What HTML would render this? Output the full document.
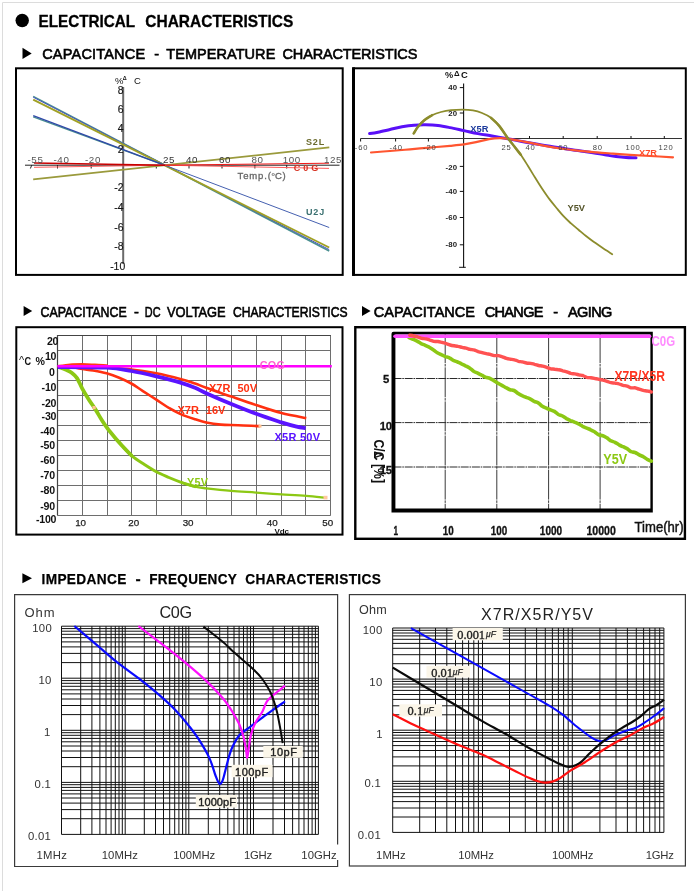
<!DOCTYPE html>
<html><head><meta charset="utf-8">
<style>
html,body{margin:0;padding:0;background:#fff;}
body{width:694px;height:893px;position:relative;overflow:hidden;font-family:"Liberation Sans",sans-serif;}
svg{position:absolute;left:0;top:0;will-change:transform;}
text{font-family:"Liberation Sans",sans-serif;}
</style></head><body>
<svg width="694" height="893" viewBox="0 0 694 893">
<path d="M2.5 891V2.5H694" fill="none" stroke="#dcdcdc" stroke-width="1"/>
<circle cx="22.2" cy="20.5" r="6.7" fill="#000"/>
<text x="38.5" y="27.1" font-size="16.4" fill="#000" font-weight="bold" textLength="96.7" lengthAdjust="spacingAndGlyphs" stroke="#000" stroke-width="0.3" letter-spacing="0" >ELECTRICAL</text>
<text x="145.3" y="27.1" font-size="16.4" fill="#000" font-weight="bold" textLength="148.0" lengthAdjust="spacingAndGlyphs" stroke="#000" stroke-width="0.3" letter-spacing="0" >CHARACTERISTICS</text>
<path d="M22.5 47.8L31.7 53.4L22.5 59Z" fill="#000"/>
<text x="42.2" y="59.3" font-size="14.5" fill="#000" textLength="102.9" lengthAdjust="spacing" stroke="#000" stroke-width="0.6">CAPACITANCE</text>
<text x="154.2" y="59.3" font-size="14.5" fill="#000" stroke="#000" stroke-width="0.6">-</text>
<text x="166.3" y="59.3" font-size="14.5" fill="#000" textLength="109.0" lengthAdjust="spacing" stroke="#000" stroke-width="0.6">TEMPERATURE</text>
<text x="282.5" y="59.3" font-size="14.5" fill="#000" textLength="134.8" lengthAdjust="spacing" stroke="#000" stroke-width="0.6">CHARACTERISTICS</text>
<g id="c1">
<rect x="16" y="68.3" width="326.7" height="206.6" fill="#fff" stroke="#000" stroke-width="2"/>
<path d="M123.2 87V264" stroke="#6a6a6a" stroke-width="2" fill="none"/>
<path d="M25 165.2H339.5" stroke="#222" stroke-width="1" fill="none"/>
<path d="M57.5 165V168.5M91.2 165V168.5M156.3 165V168.5M189 165V168.5M222 165V168.5M254.9 165V168.5M286.7 165V168.5M31.8 165L30.4 168.5" stroke="#222" stroke-width="1" fill="none"/>
<path d="M33.2 179.4L329.3 147.4" stroke="#9a9a3c" stroke-width="1.7" fill="none"/>
<path d="M33.2 96.4L329.2 251" stroke="#4a9090" stroke-width="1.6" fill="none"/>
<path d="M33.2 97.2L329.2 249.6" stroke="#4a55c0" stroke-width="1" fill="none"/>
<path d="M33.2 99.7L329.2 247.5" stroke="#a0a024" stroke-width="1.9" fill="none"/>
<path d="M33.2 116.8L165 165.3" stroke="#4a9090" stroke-width="1.4" fill="none"/>
<path d="M33.2 115.6L165 165.3" stroke="#3048a8" stroke-width="1.3" fill="none"/><path d="M165 165.3L329.2 227.5" stroke="#4560b0" stroke-width="1" fill="none"/>
<path d="M34 167.3L165 165.2L329 168.4" stroke="#ff5a5a" stroke-width="1" fill="none"/>
<path d="M34 163L165 165.2" stroke="#c80000" stroke-width="1.4" fill="none"/>
<path d="M165 165.2L329 163.2" stroke="#f01818" stroke-width="1" fill="none"/>
<text x="27.5" y="162.8" font-size="9.8" fill="#555" letter-spacing="0.6">-55</text>
<text x="53.5" y="162.8" font-size="9.8" fill="#555" letter-spacing="0.6">-40</text>
<text x="85" y="162.8" font-size="9.8" fill="#555" letter-spacing="0.6">-20</text>
<text x="163" y="162.8" font-size="9.8" fill="#333" letter-spacing="0.6">25</text>
<text x="186" y="162.8" font-size="9.8" fill="#333" letter-spacing="0.6">40</text>
<text x="219" y="162.8" font-size="9.8" fill="#333" letter-spacing="0.6">60</text>
<text x="251.5" y="162.8" font-size="9.8" fill="#555" letter-spacing="0.6">80</text>
<text x="282.7" y="162.8" font-size="9.8" fill="#555" letter-spacing="0.6">100</text>
<text x="324" y="162.8" font-size="9.8" fill="#555" letter-spacing="0.6">125</text>
<text x="123.6" y="94" font-size="10.4" fill="#151515" text-anchor="end" stroke="#151515" stroke-width="0.15">8</text>
<text x="123.6" y="112.5" font-size="10.4" fill="#151515" text-anchor="end" stroke="#151515" stroke-width="0.15">6</text>
<text x="123.6" y="131.7" font-size="10.4" fill="#151515" text-anchor="end" stroke="#151515" stroke-width="0.15">4</text>
<text x="123.6" y="152.9" font-size="10.4" fill="#151515" text-anchor="end" stroke="#151515" stroke-width="0.15">2</text>
<text x="123.6" y="191" font-size="10.4" fill="#151515" text-anchor="end" stroke="#151515" stroke-width="0.15">-2</text>
<text x="123.6" y="211.4" font-size="10.4" fill="#151515" text-anchor="end" stroke="#151515" stroke-width="0.15">-4</text>
<text x="123.6" y="230.8" font-size="10.4" fill="#151515" text-anchor="end" stroke="#151515" stroke-width="0.15">-6</text>
<text x="123.6" y="250.3" font-size="10.4" fill="#151515" text-anchor="end" stroke="#151515" stroke-width="0.15">-8</text>
<text x="125.2" y="270.2" font-size="10.4" fill="#151515" text-anchor="end" stroke="#151515" stroke-width="0.15">-10</text>
<text x="115" y="84.2" font-size="9.5" fill="#111">%</text>
<text x="122.8" y="79.6" font-size="5.5" fill="#111" font-weight="bold">Δ</text>
<text x="134" y="84.2" font-size="9.5" fill="#111">C</text>
<text x="306" y="144.7" font-size="9" fill="#6b6b2e" font-weight="bold" textLength="18.2" lengthAdjust="spacing">S2L</text>
<text x="293.8" y="170.7" font-size="9" fill="#d63020" font-weight="bold" textLength="24.4" lengthAdjust="spacing">C0G</text>
<text x="306" y="215" font-size="9" fill="#3a7070" font-weight="bold" textLength="18.2" lengthAdjust="spacing">U2J</text>
<text x="237.5" y="179.4" font-size="9.5" fill="#666" textLength="33.5" lengthAdjust="spacing" stroke="#666" stroke-width="0.3">Temp.(</text>
<text x="271.4" y="175.6" font-size="5.5" fill="#666" font-weight="bold">o</text>
<text x="275" y="179.4" font-size="9.5" fill="#666" textLength="10.6" lengthAdjust="spacing" stroke="#666" stroke-width="0.3">C)</text>
</g>
<g id="c2">
<rect x="353.5" y="68.3" width="332.3" height="206.6" fill="#fff" stroke="#000" stroke-width="2"/>
<rect x="352" y="67.3" width="3" height="208.6" fill="#000"/>
<path d="M463.6 83.5V267.5" stroke="#111" stroke-width="1.1" fill="none"/><path d="M360.6 138.5H682" stroke="#333" stroke-width="1" fill="none"/>
<path d="M360.6 138.5V141.5M395.6 138.5V141.5M428.4 138.5V141.5M496.3 138.5V136M529.5 138.5V136M563.2 138.5V136M597.2 138.5V136M631 138.5V136M664.3 138.5V136M459.8 87.6H464M459.8 113H464M459.8 166.4H464M459.8 191.4H464M459.8 217.5H464M459.8 244.8H464M459.1 267.3H465.8" stroke="#111" stroke-width="1" fill="none"/>
<path d="M369.6 133.6C371.0 133.4 374.6 132.9 378.0 132.2C381.4 131.5 386.0 130.4 390.0 129.5C394.0 128.6 398.0 127.5 402.0 126.8C406.0 126.1 410.1 125.5 414.0 125.2C417.9 124.9 421.5 124.7 425.5 124.8C429.5 124.9 433.9 125.1 438.0 125.6C442.1 126.1 445.7 126.8 450.0 127.6C454.3 128.4 459.3 129.6 464.0 130.6C468.7 131.6 473.3 132.7 478.0 133.6C482.7 134.5 486.8 135.1 492.0 136.0C497.2 136.9 504.0 138.0 509.0 138.9C514.0 139.8 517.7 140.7 522.0 141.5C526.3 142.3 530.3 143.0 535.0 143.8C539.7 144.6 545.2 145.5 550.0 146.3C554.8 147.1 559.3 147.7 564.0 148.4C568.7 149.1 573.2 149.9 578.0 150.6C582.8 151.3 588.5 152.0 593.0 152.7C597.5 153.4 601.2 154.2 605.0 154.8C608.8 155.4 612.5 156.1 616.0 156.5C619.5 156.9 622.7 157.2 626.0 157.4C629.3 157.6 634.3 157.7 636.0 157.8" stroke="#5a10f8" stroke-width="3" fill="none" stroke-linecap="round"/>
<path d="M371.0 152.5C374.2 152.2 383.5 151.5 390.0 151.0C396.5 150.5 403.3 149.9 410.0 149.3C416.7 148.7 423.3 148.2 430.0 147.6C436.7 147.0 444.3 146.3 450.0 145.8C455.7 145.3 459.7 145.0 464.0 144.4C468.3 143.8 471.8 143.1 476.0 142.2C480.2 141.3 485.0 139.9 489.0 139.2C493.0 138.5 496.2 138.2 500.0 138.2C503.8 138.2 507.1 138.7 512.0 139.4C516.9 140.2 523.8 141.6 529.5 142.7C535.2 143.8 540.2 145.1 546.0 146.2C551.8 147.2 558.3 148.2 564.0 149.0C569.7 149.8 574.5 150.2 580.0 150.8C585.5 151.4 591.5 151.9 597.0 152.4C602.5 152.9 607.5 153.2 613.0 153.6C618.5 154.0 623.8 154.4 630.0 154.8C636.2 155.2 642.8 155.6 650.0 156.0C657.2 156.4 669.2 157.1 673.0 157.3" stroke="#ff5530" stroke-width="2.2" fill="none" stroke-linecap="round"/>
<path d="M413.7 133.4C414.4 132.3 416.3 128.9 418.0 126.8C419.7 124.6 421.7 122.4 424.0 120.5C426.3 118.6 429.2 116.6 432.0 115.2C434.8 113.8 437.8 112.8 441.0 112.0C444.2 111.2 447.5 110.6 451.0 110.2C454.5 109.8 458.3 109.6 462.0 109.6C465.7 109.6 469.7 109.8 473.0 110.4C476.3 111.0 479.0 111.8 482.0 113.0C485.0 114.2 488.2 115.7 491.0 117.8C493.8 119.9 496.2 122.2 499.0 125.6C501.8 129.0 505.4 134.8 507.9 138.2C510.4 141.6 511.9 143.2 514.0 146.0C516.1 148.8 518.5 151.5 520.8 154.8C523.1 158.1 525.6 162.2 528.0 166.0C530.4 169.8 532.9 174.1 535.2 177.8C537.5 181.6 539.6 184.9 542.0 188.5C544.4 192.1 547.1 196.1 549.6 199.4C552.1 202.7 554.6 205.6 557.0 208.5C559.4 211.4 561.7 214.2 564.0 216.7C566.3 219.2 568.6 221.2 571.0 223.4C573.4 225.6 576.0 227.6 578.5 229.7C581.0 231.8 583.6 234.1 586.0 236.0C588.4 237.9 590.2 239.3 592.9 241.2C595.6 243.1 598.8 245.4 602.0 247.6C605.2 249.8 610.5 253.1 612.2 254.2" stroke="#8c8c2c" stroke-width="1.8" fill="none" stroke-linecap="round"/>
<path d="M413.7 133.4C414.4 132.3 416.3 128.9 418.0 126.8C419.7 124.6 421.7 122.4 424.0 120.5C426.3 118.6 430.7 116.1 432.0 115.2" stroke="#8c8c2c" stroke-width="2.6" fill="none" stroke-linecap="round"/>
<path d="M491.0 117.8C492.3 119.1 496.2 122.2 499.0 125.6C501.8 129.0 505.4 134.8 507.9 138.2C510.4 141.6 511.9 143.2 514.0 146.0C516.1 148.8 519.7 153.3 520.8 154.8" stroke="#8c8c2c" stroke-width="2.5" fill="none" stroke-linecap="round"/>
<text x="445" y="78.2" font-size="9.2" fill="#111" font-weight="bold">%</text>
<text x="453.9" y="75.6" font-size="7.8" fill="#111" font-weight="bold">Δ</text>
<text x="461" y="78.2" font-size="9.4" fill="#111" font-weight="bold">C</text>
<text x="457.4" y="90.19999999999999" font-size="7.8" fill="#222" font-weight="bold" text-anchor="end" letter-spacing="0.2">40</text>
<text x="457.4" y="115.8" font-size="7.8" fill="#222" font-weight="bold" text-anchor="end" letter-spacing="0.2">20</text>
<text x="457.4" y="170.4" font-size="7.8" fill="#222" font-weight="bold" text-anchor="end" letter-spacing="0.2">-20</text>
<text x="457.4" y="194.0" font-size="7.8" fill="#222" font-weight="bold" text-anchor="end" letter-spacing="0.2">-40</text>
<text x="457.4" y="220.0" font-size="7.8" fill="#222" font-weight="bold" text-anchor="end" letter-spacing="0.2">-60</text>
<text x="457.4" y="247.29999999999998" font-size="7.8" fill="#222" font-weight="bold" text-anchor="end" letter-spacing="0.2">-80</text>
<text x="361.5" y="149.8" font-size="7.6" fill="#444" text-anchor="middle" letter-spacing="0.8">-60</text>
<text x="396.2" y="149.8" font-size="7.6" fill="#444" text-anchor="middle" letter-spacing="0.8">-40</text>
<text x="429.8" y="149.8" font-size="7.6" fill="#444" text-anchor="middle" letter-spacing="0.8">-20</text>
<text x="506.5" y="149.8" font-size="7.6" fill="#444" text-anchor="middle" letter-spacing="0.8">25</text>
<text x="530.6" y="149.8" font-size="7.6" fill="#444" text-anchor="middle" letter-spacing="0.8">40</text>
<text x="563.2" y="149.8" font-size="7.6" fill="#444" text-anchor="middle" letter-spacing="0.8">60</text>
<text x="597.7" y="149.8" font-size="7.6" fill="#444" text-anchor="middle" letter-spacing="0.8">80</text>
<text x="633" y="149.8" font-size="7.6" fill="#444" text-anchor="middle" letter-spacing="0.8">100</text>
<text x="666" y="149.8" font-size="7.6" fill="#444" text-anchor="middle" letter-spacing="0.8">120</text>
<text x="470.3" y="131.6" font-size="9.3" fill="#1c3a9c" font-weight="bold">X5R</text>
<text x="639" y="156.2" font-size="9.3" fill="#ff4a28" font-weight="bold">X7R</text>
<text x="567.5" y="211" font-size="9.3" fill="#55552a" font-weight="bold">Y5V</text>
</g>
<path d="M23.6 306L32.2 311L23.6 316Z" fill="#000"/>
<text x="40.5" y="316.9" font-size="14.6" fill="#000" textLength="86.2" lengthAdjust="spacingAndGlyphs" stroke="#000" stroke-width="0.6" letter-spacing="0" >CAPACITANCE</text>
<text x="134" y="316.9" font-size="14.6" fill="#000" stroke="#000" stroke-width="0.6" letter-spacing="0" >-</text>
<text x="144.8" y="316.9" font-size="14.6" fill="#000" textLength="15.7" lengthAdjust="spacingAndGlyphs" stroke="#000" stroke-width="0.6" letter-spacing="0" >DC</text>
<text x="166.9" y="316.9" font-size="14.6" fill="#000" textLength="58.8" lengthAdjust="spacingAndGlyphs" stroke="#000" stroke-width="0.6" letter-spacing="0" >VOLTAGE</text>
<text x="233" y="316.9" font-size="14.6" fill="#000" textLength="114.5" lengthAdjust="spacingAndGlyphs" stroke="#000" stroke-width="0.6" letter-spacing="0" >CHARACTERISTICS</text>
<path d="M362 306L370.6 311L362 316Z" fill="#000"/>
<text x="373.8" y="316.9" font-size="14.5" fill="#000" textLength="101.2" lengthAdjust="spacing" stroke="#000" stroke-width="0.6">CAPACITANCE</text>
<text x="484.7" y="316.9" font-size="14.5" fill="#000" textLength="58.8" lengthAdjust="spacing" stroke="#000" stroke-width="0.6">CHANGE</text>
<text x="553.3" y="316.9" font-size="14.5" fill="#000" stroke="#000" stroke-width="0.6">-</text>
<text x="568" y="316.9" font-size="14.5" fill="#000" textLength="44.3" lengthAdjust="spacing" stroke="#000" stroke-width="0.6">AGING</text>
<g id="c3">
<rect x="16.3" y="327.2" width="326.2" height="207.4" fill="#fff" stroke="#000" stroke-width="2"/>
<path d="M57.5 335.8V515.2M82.5 335.8V515.2M107.5 335.8V515.2M131.5 335.8V515.2M156.5 335.8V515.2M181.5 335.8V515.2M206.5 335.8V515.2M231.5 335.8V515.2M256.5 335.8V515.2M281.5 335.8V515.2M305.5 335.8V515.2M330.5 335.8V515.2M57.3 335.5H330.8M57.3 350.5H330.8M57.3 365.5H330.8M57.3 380.5H330.8M57.3 395.5H330.8M57.3 410.5H330.8M57.3 425.5H330.8M57.3 440.5H330.8M57.3 455.5H330.8M57.3 470.5H330.8M57.3 485.5H330.8M57.3 500.5H330.8M57.3 515.5H330.8" stroke="#6e6e6e" stroke-width="1" fill="none"/>
<path d="M57.5 515.2V335.5H330.8" stroke="#444" stroke-width="1.2" fill="none"/>
<path d="M60.0 367.5C61.0 367.9 64.1 368.9 66.0 369.8C67.9 370.7 69.8 371.3 71.6 372.7C73.4 374.1 75.2 375.4 77.0 378.1C78.8 380.8 80.4 385.3 82.4 388.9C84.4 392.5 86.7 396.3 88.9 399.7C91.1 403.1 93.2 406.0 95.4 409.4C97.6 412.8 99.9 417.1 101.9 420.2C103.9 423.3 105.2 425.3 107.3 428.2C109.4 431.1 112.1 434.3 114.8 437.5C117.5 440.7 120.8 444.3 123.5 447.3C126.2 450.3 130.0 454.0 131.3 455.3" stroke="#8cc814" stroke-width="3.8" fill="none" stroke-linecap="round"/>
<path d="M123.5 447.3C124.8 448.6 128.1 452.6 131.3 455.3C134.5 458.0 138.7 460.8 142.9 463.5C147.1 466.2 152.0 469.4 156.3 471.7C160.6 474.0 164.8 475.7 168.9 477.5C173.1 479.3 176.8 480.8 181.2 482.3C185.5 483.8 192.7 485.9 195.0 486.6" stroke="#8cc814" stroke-width="3" fill="none" stroke-linecap="round"/>
<path d="M181.2 482.3C183.5 483.0 190.8 485.6 195.0 486.6C199.2 487.6 200.1 487.6 206.2 488.3C212.2 489.0 223.0 490.2 231.3 490.9C239.6 491.6 247.8 492.0 256.2 492.6C264.5 493.2 273.0 493.8 281.4 494.4C289.8 494.9 298.9 495.3 306.3 495.9C313.7 496.5 322.6 497.5 325.8 497.8" stroke="#8cc814" stroke-width="2.3" fill="none"/>
<rect x="323.5" y="495.8" width="4" height="3.6" fill="#ffc8a0"/>
<rect x="92.5" y="406" width="3.2" height="3.2" fill="#ffc090"/>
<path d="M58.0 366.2C60.0 365.9 66.0 364.9 70.0 364.6C74.0 364.3 77.8 364.3 82.0 364.3C86.2 364.3 90.7 364.6 95.0 364.8C99.3 365.0 105.8 365.5 108.0 365.6" stroke="#ff3a18" stroke-width="2.4" fill="none"/>
<path d="M75.0 367.4C76.2 367.7 79.4 368.5 82.4 369.0C85.4 369.5 89.2 369.8 93.2 370.5C97.2 371.2 102.3 372.1 106.6 373.3C110.9 374.5 115.1 376.0 119.2 377.7C123.3 379.4 127.4 381.3 131.3 383.5C135.2 385.7 138.7 388.4 142.9 391.1C147.1 393.8 152.0 396.9 156.3 399.7C160.6 402.5 164.8 405.4 168.9 407.9C173.1 410.3 176.8 412.5 181.2 414.4C185.5 416.3 190.8 417.9 195.0 419.2C199.2 420.5 201.9 421.5 206.2 422.4C210.5 423.3 215.6 424.1 220.9 424.6C226.2 425.1 231.7 424.9 238.2 425.2C244.7 425.4 256.2 426.0 259.8 426.1" stroke="#ff3010" stroke-width="2.6" fill="none"/>
<rect x="258.5" y="424.6" width="3" height="3" fill="#ffc090"/>
<path d="M100.0 366.0C101.1 366.2 101.4 366.7 106.6 367.3C111.8 367.9 123.0 368.5 131.3 369.5C139.6 370.5 148.0 371.7 156.3 373.3C164.6 374.9 174.8 377.5 181.2 379.2C187.6 380.9 190.8 382.1 195.0 383.5C199.2 384.9 200.1 385.6 206.2 387.8C212.2 390.0 223.0 393.6 231.3 396.5C239.6 399.4 247.8 402.3 256.2 405.1C264.5 407.9 273.0 410.9 281.4 413.1C289.8 415.3 302.1 417.3 306.3 418.1" stroke="#ff3010" stroke-width="2.6" fill="none"/>
<path d="M58.0 367.0C66.1 367.1 94.4 367.0 106.6 367.7C118.8 368.4 123.0 369.6 131.3 371.0C139.6 372.4 148.0 374.4 156.3 376.4C164.6 378.4 174.8 381.0 181.2 382.9C187.6 384.8 190.8 386.1 195.0 387.8C199.2 389.5 200.1 390.5 206.2 393.2C212.2 395.9 223.0 400.6 231.3 404.0C239.6 407.4 247.8 410.7 256.2 413.8C264.5 416.9 274.7 420.2 281.4 422.4C288.1 424.5 292.6 425.7 296.6 426.7C300.7 427.7 304.2 427.9 305.7 428.2" stroke="#5a14ff" stroke-width="3.8" fill="none"/>
<path d="M57.3 366.2H331.8" stroke="#ff00ff" stroke-width="2.6" fill="none"/>
<text x="58.3" y="344.8" font-size="10.6" fill="#111" font-weight="bold" text-anchor="end" letter-spacing="-0.2">20</text>
<text x="56.3" y="360.3" font-size="10.6" fill="#111" font-weight="bold" text-anchor="end" letter-spacing="-0.2">10</text>
<text x="54.6" y="376" font-size="10.6" fill="#111" font-weight="bold" text-anchor="end" letter-spacing="-0.2">0</text>
<text x="56.3" y="391.4" font-size="10.6" fill="#111" font-weight="bold" text-anchor="end" letter-spacing="-0.2">-10</text>
<text x="56.3" y="406.8" font-size="10.6" fill="#111" font-weight="bold" text-anchor="end" letter-spacing="-0.2">-20</text>
<text x="56.3" y="420" font-size="10.6" fill="#111" font-weight="bold" text-anchor="end" letter-spacing="-0.2">-30</text>
<text x="55" y="434.5" font-size="10.6" fill="#111" font-weight="bold" text-anchor="end" letter-spacing="-0.2">-40</text>
<text x="55" y="449" font-size="10.6" fill="#111" font-weight="bold" text-anchor="end" letter-spacing="-0.2">-50</text>
<text x="55" y="464.4" font-size="10.6" fill="#111" font-weight="bold" text-anchor="end" letter-spacing="-0.2">-60</text>
<text x="55" y="479.1" font-size="10.6" fill="#111" font-weight="bold" text-anchor="end" letter-spacing="-0.2">-70</text>
<text x="55" y="493.5" font-size="10.6" fill="#111" font-weight="bold" text-anchor="end" letter-spacing="-0.2">-80</text>
<text x="55" y="510.2" font-size="10.6" fill="#111" font-weight="bold" text-anchor="end" letter-spacing="-0.2">-90</text>
<text x="56.3" y="522.7" font-size="10.6" fill="#111" font-weight="bold" text-anchor="end" letter-spacing="-0.2">-100</text>
<text x="19" y="363.6" font-size="11" fill="#222">^</text>
<text x="24.6" y="364.6" font-size="10.6" fill="#111" font-weight="bold" textLength="6.6" lengthAdjust="spacingAndGlyphs">C</text>
<text x="35.6" y="364.6" font-size="10.6" fill="#111" font-weight="bold" textLength="8.2" lengthAdjust="spacing">%</text>
<text x="80.6" y="526.3" font-size="9.8" fill="#222" text-anchor="middle" stroke="#222" stroke-width="0.25">10</text>
<text x="133.8" y="526.3" font-size="9.8" fill="#222" text-anchor="middle" stroke="#222" stroke-width="0.25">20</text>
<text x="188.1" y="526.3" font-size="9.8" fill="#222" text-anchor="middle" stroke="#222" stroke-width="0.25">30</text>
<text x="272.3" y="526.3" font-size="9.8" fill="#222" text-anchor="middle" stroke="#222" stroke-width="0.25">40</text>
<text x="327.8" y="526.3" font-size="9.8" fill="#222" text-anchor="middle" stroke="#222" stroke-width="0.25">50</text>
<text x="274.4" y="534.2" font-size="8" fill="#111" font-weight="bold">Vdc</text>
<text x="259.8" y="369.2" font-size="10.8" fill="#ff5ed0" font-weight="bold" textLength="25" lengthAdjust="spacing">COG</text>
<text x="209" y="391.6" font-size="11" fill="#ff3010" font-weight="bold">X7R</text>
<text x="237.5" y="391.6" font-size="11" fill="#ff3010" font-weight="bold">50V</text>
<text x="177.5" y="414.4" font-size="11" fill="#ff3010" font-weight="bold">X7R</text>
<text x="205.8" y="414.4" font-size="11" fill="#ff3010" font-weight="bold">16V</text>
<text x="274.5" y="440.8" font-size="11" fill="#5a14ff" font-weight="bold" textLength="45.5" lengthAdjust="spacing">X5R 50V</text>
<text x="187" y="486.3" font-size="10.8" fill="#8cc814" font-weight="bold" textLength="21" lengthAdjust="spacing">Y5V</text>
</g>
<g id="c4">
<rect x="355.3" y="327.2" width="329.6" height="211.6" fill="#fff" stroke="#000" stroke-width="2.4"/>
<path d="M445.2 333.2V510.5M496.8 333.2V510.5M548.6 333.2V510.5M600.1 333.2V510.5" stroke="#3a3a3a" stroke-width="1" fill="none" stroke-dasharray="30 0.8 2.5 0.8"/>
<path d="M393.5 378.5H651.3M393.5 422.6H651.3M393.5 467H651.3" stroke="#2a2a2a" stroke-width="1" fill="none" stroke-dasharray="8 0.8 1.6 0.8"/>
<path d="M391.5 512.5V333.8Q391.5 331.8 393.5 331.8H652.8V512.5Z M395.4 334.4V508.5H650.4V334.4Z" fill="#000" fill-rule="evenodd"/>
<path d="M409.0 337.6C409.7 337.9 411.7 338.7 413.0 339.2C414.4 339.8 415.7 340.4 417.1 341.1C418.4 341.8 419.8 342.9 421.1 343.6C422.5 344.3 423.8 344.7 425.2 345.3C426.5 345.9 427.8 346.5 429.2 347.2C430.5 348.0 431.9 348.9 433.2 349.8C434.6 350.7 435.9 351.9 437.3 352.7C438.6 353.5 440.0 353.9 441.3 354.6C442.7 355.2 444.0 356.0 445.3 356.6C446.7 357.1 448.0 357.1 449.4 357.8C450.7 358.4 452.1 359.6 453.4 360.3C454.8 361.0 456.1 361.4 457.5 362.0C458.8 362.6 460.2 363.2 461.5 363.9C462.8 364.5 464.2 365.1 465.5 365.8C466.9 366.5 468.2 367.1 469.6 368.0C470.9 368.9 472.3 370.4 473.6 371.2C475.0 372.1 476.3 372.5 477.7 373.1C479.0 373.8 480.3 374.5 481.7 375.2C483.0 375.8 484.4 376.7 485.7 377.2C487.1 377.7 488.4 377.8 489.8 378.3C491.1 378.9 492.5 379.8 493.8 380.6C495.2 381.4 496.5 382.3 497.8 383.1C499.2 383.9 500.5 384.6 501.9 385.4C503.2 386.1 504.6 386.9 505.9 387.6C507.3 388.3 508.6 389.2 510.0 389.7C511.3 390.2 512.7 389.9 514.0 390.5C515.3 391.1 516.7 392.5 518.0 393.4C519.4 394.2 520.7 394.9 522.1 395.6C523.4 396.2 524.8 396.8 526.1 397.3C527.5 397.9 528.8 398.2 530.1 398.9C531.5 399.6 532.8 400.8 534.2 401.4C535.5 402.1 536.9 402.1 538.2 402.9C539.6 403.7 540.9 405.4 542.3 406.3C543.6 407.2 545.0 407.6 546.3 408.2C547.6 408.8 549.0 409.2 550.3 409.8C551.7 410.3 553.0 410.7 554.4 411.4C555.7 412.2 557.1 413.7 558.4 414.5C559.8 415.2 561.1 415.3 562.5 416.0C563.8 416.7 565.1 417.8 566.5 418.6C567.8 419.3 569.2 420.0 570.5 420.6C571.9 421.1 573.2 421.5 574.6 422.1C575.9 422.6 577.3 423.3 578.6 424.0C580.0 424.7 581.3 425.6 582.6 426.3C584.0 427.0 585.3 427.6 586.7 428.1C588.0 428.7 589.4 429.1 590.7 429.8C592.1 430.4 593.4 431.2 594.8 432.0C596.1 432.9 597.5 434.3 598.8 434.9C600.1 435.5 601.5 435.3 602.8 435.7C604.2 436.2 605.5 437.0 606.9 437.8C608.2 438.7 609.6 440.1 610.9 440.8C612.3 441.6 613.6 441.6 615.0 442.3C616.3 443.0 617.6 444.0 619.0 444.8C620.3 445.5 621.7 446.1 623.0 446.7C624.4 447.4 625.7 447.8 627.1 448.6C628.4 449.4 629.8 451.0 631.1 451.7C632.5 452.3 633.8 451.9 635.1 452.5C636.5 453.0 637.8 454.2 639.2 454.9C640.5 455.6 641.9 455.9 643.2 456.6C644.6 457.3 645.9 458.6 647.3 459.4C648.6 460.1 650.6 460.9 651.3 461.2" stroke="#8cc814" stroke-width="3.6" fill="none" stroke-linecap="round"/>
<path d="M395 336.2H649.6" stroke="#ff50ff" stroke-width="3.5" fill="none" stroke-linecap="round"/>
<path d="M409.8 335.3C410.5 335.4 412.5 335.7 413.8 336.0C415.2 336.3 416.5 336.7 417.9 337.0C419.2 337.4 420.5 338.1 421.9 338.4C423.2 338.7 424.6 338.6 425.9 338.9C427.2 339.2 428.6 339.7 429.9 340.1C431.3 340.5 432.6 341.1 433.9 341.4C435.3 341.6 436.6 341.3 438.0 341.5C439.3 341.7 440.7 342.1 442.0 342.4C443.3 342.8 444.7 343.1 446.0 343.5C447.4 344.0 448.7 344.6 450.1 345.0C451.4 345.4 452.7 345.6 454.1 345.8C455.4 346.0 456.8 346.1 458.1 346.4C459.4 346.6 460.8 347.1 462.1 347.4C463.5 347.7 464.8 347.9 466.1 348.2C467.5 348.5 468.8 349.1 470.2 349.4C471.5 349.7 472.9 349.6 474.2 350.0C475.5 350.3 476.9 351.1 478.2 351.6C479.6 352.0 480.9 352.3 482.2 352.7C483.6 353.1 484.9 353.4 486.3 353.7C487.6 354.0 489.0 354.1 490.3 354.4C491.6 354.8 493.0 355.4 494.3 355.6C495.7 355.8 497.0 355.4 498.3 355.6C499.7 355.8 501.0 356.4 502.4 356.8C503.7 357.3 505.1 358.0 506.4 358.4C507.7 358.8 509.1 359.0 510.4 359.2C511.8 359.4 513.1 359.4 514.5 359.8C515.8 360.1 517.1 360.9 518.5 361.3C519.8 361.6 521.2 361.6 522.5 361.9C523.8 362.2 525.2 362.8 526.5 363.0C527.9 363.3 529.2 363.2 530.5 363.4C531.9 363.7 533.2 363.9 534.6 364.3C535.9 364.6 537.3 365.2 538.6 365.5C539.9 365.8 541.3 365.8 542.6 366.1C544.0 366.4 545.3 366.9 546.6 367.3C548.0 367.8 549.3 368.5 550.7 368.8C552.0 369.1 553.4 369.0 554.7 369.2C556.0 369.3 557.4 369.5 558.7 369.8C560.1 370.0 561.4 370.4 562.8 370.8C564.1 371.1 565.4 371.4 566.8 371.8C568.1 372.3 569.5 373.0 570.8 373.4C572.1 373.7 573.5 373.7 574.8 373.9C576.2 374.1 577.5 374.5 578.8 374.8C580.2 375.1 581.5 375.1 582.9 375.5C584.2 376.0 585.6 377.0 586.9 377.4C588.2 377.7 589.6 377.6 590.9 377.7C592.3 377.9 593.6 378.2 595.0 378.5C596.3 378.7 597.6 379.0 599.0 379.3C600.3 379.6 601.7 379.9 603.0 380.2C604.3 380.5 605.7 380.9 607.0 381.3C608.4 381.7 609.7 382.4 611.0 382.7C612.4 383.0 613.7 382.9 615.1 383.1C616.4 383.4 617.8 383.6 619.1 384.0C620.4 384.4 621.8 385.0 623.1 385.4C624.5 385.7 625.8 385.7 627.1 386.1C628.5 386.5 629.8 387.5 631.2 387.8C632.5 388.1 633.9 387.6 635.2 387.8C636.5 388.1 637.9 388.8 639.2 389.2C640.6 389.6 641.9 390.1 643.2 390.4C644.6 390.7 645.9 390.7 647.3 391.0C648.6 391.2 650.6 391.8 651.3 392.0" stroke="#ff5252" stroke-width="3.4" fill="none" stroke-linecap="round"/>
<text x="389.4" y="383" font-size="11.3" fill="#111" font-weight="bold" text-anchor="end" stroke="#111" stroke-width="0.3">5</text>
<text x="391.6" y="429.6" font-size="11.3" fill="#111" font-weight="bold" text-anchor="end" letter-spacing="-0.4" stroke="#111" stroke-width="0.3">10</text>
<text x="391.6" y="473.8" font-size="11.3" fill="#111" font-weight="bold" text-anchor="end" letter-spacing="-0.4" stroke="#111" stroke-width="0.3">15</text>
<g transform="translate(374,439.5) rotate(90)">
<text x="0" y="0" font-size="14.5" fill="#111" font-weight="bold" textLength="43.5" lengthAdjust="spacingAndGlyphs">C/C [%]</text>
<text x="11.5" y="0.5" font-size="10.5" fill="#111" font-weight="bold">Δ</text>
</g>
<text x="395.7" y="534.8" font-size="12" fill="#111" font-weight="bold" text-anchor="middle" textLength="4.6" lengthAdjust="spacingAndGlyphs"  stroke="#111" stroke-width="0.3">1</text>
<text x="448.2" y="534.8" font-size="12" fill="#111" font-weight="bold" text-anchor="middle" textLength="11" lengthAdjust="spacingAndGlyphs"  stroke="#111" stroke-width="0.3">10</text>
<text x="499" y="534.8" font-size="12" fill="#111" font-weight="bold" text-anchor="middle" textLength="16.5" lengthAdjust="spacingAndGlyphs"  stroke="#111" stroke-width="0.3">100</text>
<text x="551" y="534.8" font-size="12" fill="#111" font-weight="bold" text-anchor="middle" textLength="22.3" lengthAdjust="spacingAndGlyphs"  stroke="#111" stroke-width="0.3">1000</text>
<text x="601.1" y="534.8" font-size="12" fill="#111" font-weight="bold" text-anchor="middle" textLength="29.4" lengthAdjust="spacingAndGlyphs"  stroke="#111" stroke-width="0.3">10000</text>
<text x="634.6" y="531.8" font-size="14" fill="#111" textLength="49" lengthAdjust="spacingAndGlyphs"  stroke="#111" stroke-width="0.45">Time(hr)</text>
<text x="651.5" y="346.3" font-size="14" fill="#ff8cff" font-weight="bold" textLength="23.6" lengthAdjust="spacingAndGlyphs">C0G</text>
<text x="614.5" y="380.8" font-size="14.6" fill="#ff3420" font-weight="bold" textLength="50.5" lengthAdjust="spacingAndGlyphs">X7R/X5R</text>
<text x="603.3" y="464.4" font-size="14.6" fill="#8cc814" font-weight="bold" textLength="23.7" lengthAdjust="spacingAndGlyphs">Y5V</text>
</g>
<path d="M22.4 573.2L32 578.2L22.4 583.2Z" fill="#000"/>
<text x="41.5" y="583.8" font-size="15.5" fill="#000" font-weight="bold" textLength="85.2" lengthAdjust="spacingAndGlyphs" stroke="#000" stroke-width="0.25" letter-spacing="0.4" >IMPEDANCE</text>
<text x="135.5" y="583.8" font-size="15.5" fill="#000" font-weight="bold" stroke="#000" stroke-width="0.25" letter-spacing="0.4" >-</text>
<text x="149.2" y="583.8" font-size="15.5" fill="#000" font-weight="bold" textLength="88.0" lengthAdjust="spacingAndGlyphs" stroke="#000" stroke-width="0.25" letter-spacing="0.4" >FREQUENCY</text>
<text x="245.3" y="583.8" font-size="15.5" fill="#000" font-weight="bold" textLength="135.9" lengthAdjust="spacingAndGlyphs" stroke="#000" stroke-width="0.25" letter-spacing="0.4" >CHARACTERISTICS</text>
<g id="c5">
<path d="M337.6 844.6V594.6H14.6V866.5H337.6V860" fill="none" stroke="#3a3a3a" stroke-width="1.2"/>
<path d="M61.5 626.2V834.4M80.7 626.2V834.4M91.9 626.2V834.4M99.9 626.2V834.4M106.0 626.2V834.4M111.1 626.2V834.4M115.3 626.2V834.4M119.0 626.2V834.4M122.3 626.2V834.4M125.2 626.2V834.4M144.3 626.2V834.4M155.5 626.2V834.4M163.5 626.2V834.4M169.7 626.2V834.4M174.7 626.2V834.4M178.9 626.2V834.4M182.6 626.2V834.4M185.9 626.2V834.4M188.8 626.2V834.4M208.3 626.2V834.4M219.7 626.2V834.4M227.8 626.2V834.4M234.0 626.2V834.4M239.1 626.2V834.4M243.5 626.2V834.4M247.2 626.2V834.4M250.5 626.2V834.4M253.5 626.2V834.4M273.0 626.2V834.4M284.5 626.2V834.4M292.6 626.2V834.4M298.9 626.2V834.4M304.0 626.2V834.4M308.3 626.2V834.4M312.1 626.2V834.4M315.4 626.2V834.4M318.4 626.2V834.4M61.5 678.2H318.4M61.5 662.6H318.4M61.5 653.4H318.4M61.5 646.9H318.4M61.5 641.9H318.4M61.5 637.7H318.4M61.5 634.3H318.4M61.5 631.2H318.4M61.5 628.6H318.4M61.5 730.3H318.4M61.5 714.6H318.4M61.5 705.5H318.4M61.5 699.0H318.4M61.5 693.9H318.4M61.5 689.8H318.4M61.5 686.3H318.4M61.5 683.3H318.4M61.5 680.6H318.4M61.5 782.4H318.4M61.5 766.7H318.4M61.5 757.5H318.4M61.5 751.0H318.4M61.5 746.0H318.4M61.5 741.8H318.4M61.5 738.4H318.4M61.5 735.3H318.4M61.5 732.7H318.4M61.5 834.4H318.4M61.5 818.7H318.4M61.5 809.6H318.4M61.5 803.1H318.4M61.5 798.0H318.4M61.5 793.9H318.4M61.5 790.4H318.4M61.5 787.4H318.4M61.5 784.7H318.4M61.5 626.2H318.4" stroke="#111" stroke-width="1" fill="none"/>
<path d="M74.3 626.0C77.7 628.9 87.4 637.0 94.6 643.1C101.8 649.2 109.9 656.6 117.6 662.7C125.3 668.8 133.8 674.5 140.7 679.9C147.6 685.3 153.3 689.9 159.1 694.9C164.9 699.9 170.3 704.7 175.3 709.9C180.3 715.1 185.3 721.3 189.1 726.1C192.9 730.9 195.0 733.5 198.3 738.7C201.7 744.0 206.3 751.5 209.2 757.6C212.1 763.7 214.0 771.5 215.5 775.5C217.0 779.5 217.2 780.1 218.0 781.5C218.8 782.9 219.4 784.1 220.1 784.1C220.8 784.1 221.5 782.9 222.2 781.5C222.9 780.1 223.1 779.0 224.1 775.5C225.1 772.0 226.6 765.2 227.9 760.5C229.2 755.8 230.3 751.7 232.2 747.5C234.1 743.3 236.5 738.6 239.4 735.2C242.3 731.9 245.9 730.1 249.5 727.4C253.1 724.6 257.1 721.6 261.0 718.7C264.9 715.8 268.6 713.0 272.6 710.1C276.6 707.2 282.9 702.9 285.0 701.4" stroke="#0a0aff" stroke-width="2.2" fill="none" stroke-linejoin="round"/>
<path d="M138.4 626.0C142.6 629.2 155.6 639.1 163.7 645.4C171.8 651.7 179.9 658.0 186.8 663.8C193.7 669.5 199.7 674.7 205.2 679.9C210.7 685.1 216.4 691.0 220.0 694.9C223.6 698.8 224.5 700.2 226.5 703.0C228.5 705.8 230.0 707.9 232.2 711.5C234.3 715.1 237.5 720.2 239.4 724.5C241.3 728.8 242.6 733.2 243.7 737.5C244.8 741.8 245.5 747.0 246.1 750.4C246.7 753.8 246.7 758.1 247.2 757.6C247.7 757.1 248.3 751.3 248.9 747.5C249.5 743.7 249.9 738.7 251.0 734.6C252.1 730.5 253.4 726.9 255.3 723.0C257.2 719.1 260.6 715.1 262.5 711.5C264.4 707.9 264.9 704.5 266.8 701.6C268.7 698.8 271.0 697.0 274.0 694.4C277.0 691.8 283.2 687.2 285.0 685.7" stroke="#ff10ff" stroke-width="2.2" fill="none" stroke-linejoin="round"/>
<path d="M203.4 626.6C205.0 627.8 209.6 631.4 213.0 634.0C216.4 636.6 220.4 639.8 223.6 642.5C226.8 645.2 229.1 647.9 232.0 650.5C234.9 653.1 238.2 656.0 240.9 658.3C243.6 660.6 245.6 662.3 248.0 664.5C250.4 666.7 253.1 669.0 255.3 671.3C257.6 673.5 259.6 675.6 261.5 678.0C263.4 680.4 265.2 683.2 266.8 685.7C268.4 688.2 269.6 690.4 270.8 693.0C272.0 695.6 273.0 698.5 274.0 701.6C275.0 704.7 275.9 707.5 276.9 711.5C277.9 715.5 278.8 720.6 279.8 725.9C280.8 731.2 282.2 740.3 282.7 743.2" stroke="#0a0a0a" stroke-width="2" fill="none"/>
<rect x="263.3" y="746" width="39.5" height="11.8" fill="#fbf6e9"/>
<text x="270.3" y="756.3" font-size="11" fill="#222" textLength="26.7" lengthAdjust="spacing" stroke="#222" stroke-width="0.4">10pF</text>
<rect x="231.6" y="764.8" width="41" height="12.4" fill="#fbf6e9"/>
<text x="235.1" y="775.6" font-size="11" fill="#222" textLength="33.1" lengthAdjust="spacing" stroke="#222" stroke-width="0.4">100pF</text>
<rect x="195.8" y="795" width="41.2" height="12.6" fill="#fbf6e9"/>
<text x="198.3" y="805.8" font-size="11" fill="#222" textLength="37.6" lengthAdjust="spacing" stroke="#222" stroke-width="0.4">1000pF</text>
<text x="24.6" y="616.7" font-size="13" fill="#333" textLength="30" lengthAdjust="spacing">Ohm</text>
<text x="159.5" y="618" font-size="16.2" fill="#222" textLength="32.5" lengthAdjust="spacing">C0G</text>
<text x="52" y="632.3" font-size="11.3" fill="#333" text-anchor="end" letter-spacing="0.3">100</text>
<text x="51.6" y="684.2" font-size="11.3" fill="#333" text-anchor="end" letter-spacing="0.3">10</text>
<text x="50.4" y="736.4" font-size="11.3" fill="#333" text-anchor="end">1</text>
<text x="51.2" y="788.3" font-size="11.3" fill="#333" text-anchor="end" letter-spacing="0.3">0.1</text>
<text x="51.2" y="840" font-size="11.3" fill="#333" text-anchor="end" letter-spacing="0.3">0.01</text>
<text x="36.5" y="858.5" font-size="11.3" fill="#333" textLength="30.5" lengthAdjust="spacing">1MHz</text>
<text x="101.7" y="858.5" font-size="11.3" fill="#333" textLength="36.2" lengthAdjust="spacing">10MHz</text>
<text x="173.2" y="858.5" font-size="11.3" fill="#333" textLength="42" lengthAdjust="spacing">100MHz</text>
<text x="244.1" y="858.5" font-size="11.3" fill="#333" textLength="28" lengthAdjust="spacing">1GHz</text>
<text x="301.3" y="858.5" font-size="11.3" fill="#333" textLength="35.4" lengthAdjust="spacing">10GHz</text>
</g>
<g id="c6">
<rect x="349.4" y="594.6" width="336" height="271.4" fill="#fff" stroke="#3a3a3a" stroke-width="1.2"/>
<path d="M392.7 628V832.4M419.7 628V832.4M435.5 628V832.4M446.8 628V832.4M455.5 628V832.4M462.6 628V832.4M468.6 628V832.4M473.8 628V832.4M478.4 628V832.4M482.5 628V832.4M509.5 628V832.4M525.3 628V832.4M536.6 628V832.4M545.3 628V832.4M552.4 628V832.4M558.4 628V832.4M563.6 628V832.4M568.2 628V832.4M572.3 628V832.4M599.9 628V832.4M616.0 628V832.4M627.4 628V832.4M636.3 628V832.4M643.6 628V832.4M649.7 628V832.4M655.0 628V832.4M659.7 628V832.4M663.9 628V832.4M392.7 679.1H663.9M392.7 663.7H663.9M392.7 654.7H663.9M392.7 648.3H663.9M392.7 643.4H663.9M392.7 639.3H663.9M392.7 635.9H663.9M392.7 633.0H663.9M392.7 630.3H663.9M392.7 730.2H663.9M392.7 714.8H663.9M392.7 705.8H663.9M392.7 699.4H663.9M392.7 694.5H663.9M392.7 690.4H663.9M392.7 687.0H663.9M392.7 684.1H663.9M392.7 681.4H663.9M392.7 781.3H663.9M392.7 765.9H663.9M392.7 756.9H663.9M392.7 750.5H663.9M392.7 745.6H663.9M392.7 741.5H663.9M392.7 738.1H663.9M392.7 735.2H663.9M392.7 732.5H663.9M392.7 832.4H663.9M392.7 817.0H663.9M392.7 808.0H663.9M392.7 801.6H663.9M392.7 796.7H663.9M392.7 792.6H663.9M392.7 789.2H663.9M392.7 786.3H663.9M392.7 783.6H663.9M392.7 628H663.9" stroke="#111" stroke-width="1" fill="none"/>
<path d="M410.9 628.2C429.3 638.5 498.2 677.0 521.4 690.0C544.6 703.0 543.1 702.0 550.0 706.1C556.9 710.2 558.1 711.1 562.7 714.6C567.3 718.1 572.8 723.5 577.6 727.3C582.4 731.1 587.9 735.3 591.5 737.6C595.1 739.9 597.2 740.6 599.5 741.1C601.8 741.6 602.8 741.4 605.3 740.4C607.8 739.4 611.0 736.9 614.5 735.3C618.0 733.7 622.6 731.9 626.1 730.7C629.6 729.5 632.2 729.3 635.3 728.0C638.4 726.7 641.0 724.9 644.5 722.7C648.0 720.5 652.7 717.0 656.0 714.6C659.3 712.2 662.8 709.2 664.1 708.1" stroke="#0a0aff" stroke-width="2" fill="none"/>
<path d="M392.8 667.6C399.1 671.3 419.2 683.4 430.3 690.0C441.4 696.6 450.6 702.1 459.2 707.3C467.8 712.5 474.5 716.7 482.2 721.1C489.9 725.5 497.6 729.4 505.3 733.8C513.0 738.2 520.8 743.4 528.3 747.6C535.8 751.8 545.0 756.6 550.0 759.2C555.0 761.8 555.3 762.0 558.0 763.2C560.7 764.4 563.8 766.0 566.1 766.5C568.4 767.0 569.6 767.1 571.9 766.5C574.2 765.9 577.0 765.1 579.9 763.0C582.8 760.9 585.7 757.1 589.2 753.8C592.7 750.5 596.1 747.2 600.7 743.4C605.3 739.6 611.4 734.9 616.8 731.2C622.2 727.6 629.1 723.9 633.0 721.5C636.9 719.1 637.2 719.0 639.9 716.9C642.6 714.8 646.4 710.7 649.1 708.8C651.8 706.9 653.5 706.9 656.0 705.4C658.5 703.9 662.8 700.6 664.1 699.6" stroke="#0a0a0a" stroke-width="2.2" fill="none"/>
<path d="M392.8 714.2C396.2 715.9 405.9 721.1 413.1 724.6C420.3 728.1 428.4 731.5 436.1 735.0C443.8 738.5 451.5 742.0 459.2 745.3C466.9 748.6 475.3 751.5 482.2 754.6C489.1 757.7 495.3 761.1 500.7 763.8C506.1 766.5 509.9 768.4 514.5 770.7C519.1 773.0 524.4 775.9 528.3 777.6C532.1 779.3 534.9 780.2 537.6 781.1C540.3 782.0 542.0 782.6 544.5 782.7C547.0 782.8 549.7 782.4 552.3 781.6C554.9 780.8 557.2 779.9 560.3 778.0C563.4 776.1 566.7 773.0 570.7 770.4C574.8 767.8 579.6 765.6 584.6 762.5C589.6 759.4 595.3 755.0 600.7 751.5C606.1 748.0 611.8 744.6 616.8 741.8C621.8 739.0 626.1 737.3 630.7 734.9C635.3 732.5 640.7 729.2 644.5 727.3C648.3 725.4 650.4 725.0 653.7 723.3C657.0 721.6 662.4 718.0 664.1 716.9" stroke="#ff1010" stroke-width="2.2" fill="none"/>
<rect x="452.6" y="628" width="50.2" height="12.3" fill="#fbf6e9"/>
<text x="457.2" y="639.2" font-size="12.4" fill="#222" stroke="#222" stroke-width="0.35" style="font-family:'Liberation Serif',serif">0.001</text>
<text x="486" y="637.2" font-size="8.5" font-style="italic" fill="#222" stroke="#222" stroke-width="0.25">μF</text>
<rect x="426.5" y="665.8" width="43.5" height="11.8" fill="#fbf6e9"/>
<text x="431.3" y="676.6" font-size="12.4" fill="#222" stroke="#222" stroke-width="0.35" style="font-family:'Liberation Serif',serif">0.01</text>
<text x="452.8" y="674.6" font-size="8.5" font-style="italic" fill="#222" stroke="#222" stroke-width="0.25">μF</text>
<rect x="399.3" y="704.3" width="42.7" height="12.2" fill="#fbf6e9"/>
<text x="407.6" y="715" font-size="12.4" fill="#222" stroke="#222" stroke-width="0.35" style="font-family:'Liberation Serif',serif">0.1</text>
<text x="423.8" y="713" font-size="8.5" font-style="italic" fill="#222" stroke="#222" stroke-width="0.25">μF</text>
<text x="359.1" y="614.4" font-size="12.6" fill="#333" textLength="27.7" lengthAdjust="spacing">Ohm</text>
<text x="481" y="620.2" font-size="16" fill="#222" textLength="112" lengthAdjust="spacing">X7R/X5R/Y5V</text>
<text x="382.5" y="634" font-size="11.3" fill="#333" text-anchor="end" letter-spacing="0.3">100</text>
<text x="382.5" y="685.8" font-size="11.3" fill="#333" text-anchor="end" letter-spacing="0.3">10</text>
<text x="382.5" y="737.5" font-size="11.3" fill="#333" text-anchor="end">1</text>
<text x="381" y="787" font-size="11.3" fill="#333" text-anchor="end" letter-spacing="0.3">0.1</text>
<text x="381" y="838.6" font-size="11.3" fill="#333" text-anchor="end" letter-spacing="0.3">0.01</text>
<text x="376.1" y="859.4" font-size="11.3" fill="#333" textLength="29.5" lengthAdjust="spacing">1MHz</text>
<text x="458.2" y="859.4" font-size="11.3" fill="#333" textLength="35.7" lengthAdjust="spacing">10MHz</text>
<text x="552" y="859.4" font-size="11.3" fill="#333" textLength="41.5" lengthAdjust="spacing">100MHz</text>
<text x="645.8" y="859.4" font-size="11.3" fill="#333" textLength="28.1" lengthAdjust="spacing">1GHz</text>
</g>
</svg>
</body></html>
